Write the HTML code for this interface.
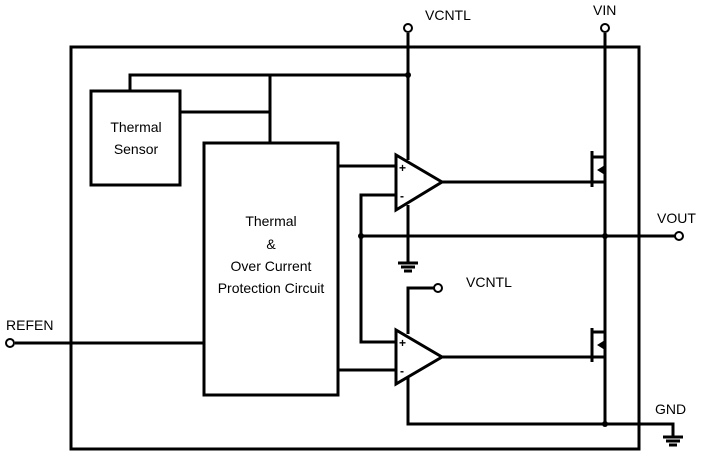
<!DOCTYPE html>
<html><head><style>body{margin:0;background:#fff}svg{display:block}text{font-family:"Liberation Sans",sans-serif;font-size:14px;fill:#000}</style></head><body>
<svg width="716" height="468" viewBox="0 0 716 468" xmlns="http://www.w3.org/2000/svg">
<g fill="none" stroke="#000" stroke-width="3">
<rect x="71" y="47" width="568" height="402"/>
<rect x="91" y="91" width="89" height="94"/>
<rect x="204" y="143" width="134" height="252"/>
<polyline points="130,91 130,75 408,75"/>
<polyline points="180,112 270,112"/>
<line x1="270" y1="75" x2="270" y2="143"/>
<line x1="408" y1="33" x2="408" y2="160"/>
<polygon points="396,155 396,210 442,182"/>
<polyline points="338,166 396,166"/>
<polyline points="396,195 361,195 361,342 396,342"/>
<line x1="408" y1="205" x2="408" y2="262"/>
<line x1="361" y1="236" x2="675" y2="236"/>
<line x1="442" y1="182" x2="592" y2="182"/>
<line x1="605" y1="33" x2="605" y2="424"/>
<polyline points="592,157 605,157"/>
<polyline points="592,182 605,182"/>
<line x1="592" y1="151" x2="592" y2="187"/>
<polygon points="396,330 396,384 442,357"/>
<polyline points="408,334 408,288 434,288"/>
<polyline points="338,370 396,370"/>
<polyline points="408,378 408,424 673,424 673,436"/>
<line x1="442" y1="357" x2="592" y2="357"/>
<line x1="592" y1="328" x2="592" y2="362"/>
<polyline points="592,332 605,332"/>
<polyline points="592,357 605,357"/>
<line x1="15" y1="343" x2="204" y2="343"/>
</g>
<g stroke="#000" stroke-width="3">
<line x1="398" y1="263" x2="418" y2="263"/>
<line x1="401" y1="267" x2="415" y2="267"/>
<line x1="404" y1="271" x2="412" y2="271"/>
<line x1="663" y1="437" x2="683" y2="437"/>
<line x1="666" y1="441" x2="680" y2="441"/>
<line x1="669" y1="445" x2="677" y2="445"/>
</g>
<g fill="#000">
<polygon points="597,170 605,165 605,175"/>
<polygon points="597,345 605,340 605,350"/>
<circle cx="408" cy="75" r="3"/><circle cx="361" cy="236" r="3"/><circle cx="605" cy="236" r="3"/><circle cx="605" cy="424" r="3"/>
</g>
<g fill="#fff" stroke="#000" stroke-width="2">
<circle cx="408" cy="28" r="4"/><circle cx="605" cy="28" r="4"/><circle cx="679" cy="236" r="4"/><circle cx="438" cy="288" r="4"/><circle cx="10" cy="343" r="4"/>
</g>
<text x="425" y="20">VCNTL</text>
<text x="593" y="15">VIN</text>
<text x="657" y="223">VOUT</text>
<text x="466" y="287">VCNTL</text>
<text x="655" y="414">GND</text>
<text x="6" y="330">REFEN</text>
<text x="136" y="132" text-anchor="middle">Thermal</text>
<text x="136" y="154" text-anchor="middle">Sensor</text>
<text x="271" y="226" text-anchor="middle">Thermal</text>
<text x="271" y="249" text-anchor="middle">&amp;</text>
<text x="271" y="271" text-anchor="middle">Over Current</text>
<text x="271" y="293" text-anchor="middle">Protection Circuit</text>
<text x="399" y="172" style="font-size:12px;font-weight:bold">+</text>
<text x="400" y="200" style="font-size:12px;font-weight:bold">-</text>
<text x="399" y="347" style="font-size:12px;font-weight:bold">+</text>
<text x="400" y="375" style="font-size:12px;font-weight:bold">-</text>
</svg>
</body></html>
